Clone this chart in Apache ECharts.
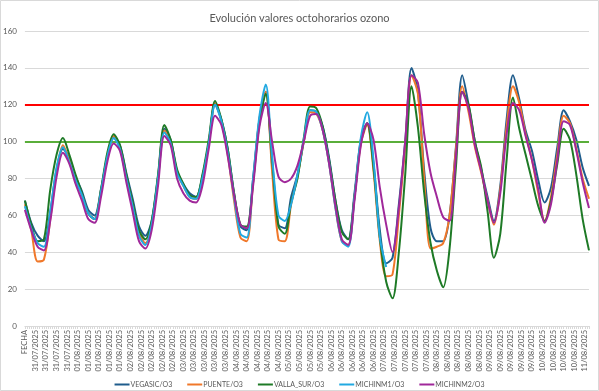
<!DOCTYPE html>
<html>
<head>
<meta charset="utf-8">
<script src="https://cdn.jsdelivr.net/npm/echarts@6/dist/echarts.min.js"></script>
<style>
html,body{margin:0;padding:0;background:#fff;}
#c{width:599px;height:391px;}
</style>
</head>
<body>
<div id="c"></div>
<script>
// ---- data ----
const titleText = 'Evolución valores octohorarios ozono';
const firstLabel = 'FECHA';
const days = ['31/07/2025','01/08/2025','02/08/2025','03/08/2025','04/08/2025','05/08/2025',
              '06/08/2025','07/08/2025','08/08/2025','09/08/2025','10/08/2025','11/08/2025'];
const hoursOnLastDay = 3; // 11/08 00:00 .. 02:00
const yTicks = [0, 20, 40, 60, 80, 100, 120, 140, 160];
const limitRed = 120;
const limitGreen = 100;
const seriesNames = ['VEGASIC/O3','PUENTE/O3','VALLA_SUR/O3','MICHINM1/O3','MICHINM2/O3'];

// readings taken every 3rd hourly category (category index 0,3,6,...,267)
const vegasic = [68,56,49,46,62,85,96,91,81,73,
 63,60,74,92,102,98,83,69,54,49,
 57,81,107,101,84,77,72,70,81,99,
 120,112,96,72,54,52,80,112,127,87,
 55,53,70,82,100,117,116,108,91,68,
 52,47,72,101,110,88,52,34,37,66,
 100,140,127,84,53,46,46,60,97,136,
 120,100,85,70,57,76,112,136,123,106,
 95,79,67,75,97,117,111,101,86,76];
const puente = [66,52,35,36,58,84,98,90,79,71,
 61,58,73,92,103,97,81,66,51,45,
 55,80,106,100,83,76,70,69,80,99,
 121,111,93,68,48,46,78,112,127,84,
 47,46,66,81,100,116,115,106,88,64,
 46,44,70,99,109,84,46,27,28,60,
 97,136,126,80,42,43,45,60,96,130,
 116,97,83,68,55,74,108,130,121,104,
 90,72,57,70,93,114,110,96,80,69];
const vallaSur = [68,55,46,47,74,93,102,93,82,72,
 61,58,74,94,104,98,82,67,52,47,
 57,82,109,101,85,77,71,70,82,101,
 122,112,96,72,55,54,78,110,126,90,
 54,50,67,80,102,119,118,108,90,68,
 51,47,70,100,110,86,48,24,15,40,
 82,130,108,72,45,30,21,42,86,127,
 120,100,86,62,37,50,90,124,107,93,
 79,65,57,68,88,107,101,82,58,41];
const michinm1 = [65,53,45,43,62,86,97,89,79,71,
 61,58,73,92,102,96,80,65,49,44,
 55,80,105,99,83,76,70,69,80,99,
 120,111,94,70,50,48,80,114,131,92,
 60,57,66,82,101,117,116,106,88,64,
 46,43,70,102,116,90,48,32];
const michinm2 = [63,52,43,41,57,81,94,88,77,68,
 58,56,70,89,99,95,78,62,46,42,
 52,76,103,98,80,72,68,67,76,96,
 114,109,92,71,55,53,76,108,121,100,
 81,78,80,87,100,114,115,106,88,65,
 47,44,68,98,110,101,75,55,40,64,
 100,136,132,104,83,70,59,57,92,127,
 118,98,84,68,56,72,104,121,117,103,
 90,74,56,66,90,111,109,95,78,64];
const sampleStep = 3;

// ---- build categories (hourly) ----
const categories = [firstLabel];
days.forEach((d, di) => {
  const n = di === days.length - 1 ? hoursOnLastDay : 24;
  for (let h = 0; h < n; h++) categories.push(d + ' ' + String(h).padStart(2, '0') + ':00');
});

function place(samples) {
  const arr = new Array(categories.length).fill(null);
  samples.forEach((v, k) => { if (v !== null) arr[k * sampleStep] = v; });
  return arr;
}

const colors = ['#1F5C8C', '#F0782A', '#1E7A26', '#22A9E1', '#A0289A'];
const allData = [vegasic, puente, vallaSur, michinm1, michinm2];
const textColor = '#595959';
const font = 'Lato';

const series = allData.map((d, i) => ({
  name: seriesNames[i],
  type: 'line',
  data: place(d),
  connectNulls: true,
  smooth: 0.3,
  showSymbol: false,
  symbol: 'none',
  lineStyle: { width: 2, color: colors[i] },
  itemStyle: { color: colors[i] },
  z: 3 + i
}));
series[0].markLine = {
  silent: true,
  symbol: 'none',
  label: { show: false },
  data: [
    { yAxis: limitRed, lineStyle: { color: '#FF0000', width: 2, type: 'solid' } },
    { yAxis: limitGreen, lineStyle: { color: '#5AAE3A', width: 2, type: 'solid' } }
  ]
};

const chart = echarts.init(document.getElementById('c'), null, { renderer: 'canvas' });
chart.setOption({
  animation: false,
  backgroundColor: '#fff',
  textStyle: { fontFamily: font },
  color: colors,
  title: {
    text: titleText,
    left: 'center',
    top: 8,
    textStyle: { fontSize: 11, fontWeight: 'normal', color: textColor, fontFamily: font }
  },
  legend: {
    data: seriesNames,
    top: 376,
    left: 'center',
    icon: 'rect',
    itemWidth: 15,
    itemHeight: 2,
    itemGap: 15,
    textStyle: { fontSize: 7, color: textColor, fontFamily: font, padding: [0, 0, 0, -4] }
  },
  grid: { left: 24, right: 10, top: 31, bottom: 65, containLabel: false },
  xAxis: {
    type: 'category',
    data: categories,
    boundaryGap: false,
    axisLine: { show: true, lineStyle: { color: '#D9D9D9', width: 1 } },
    axisTick: { show: true, interval: 0, length: 3, lineStyle: { color: '#D9D9D9' } },
    axisLabel: {
      interval: 4,
      rotate: 90,
      fontSize: 7.5,
      color: textColor,
      margin: 4,
      fontFamily: font,
      formatter: v => v.split(' ')[0]
    },
    splitLine: { show: false }
  },
  yAxis: {
    type: 'value',
    min: yTicks[0],
    max: yTicks[yTicks.length - 1],
    interval: yTicks[1] - yTicks[0],
    axisLine: { show: false },
    axisTick: { show: false },
    axisLabel: { fontSize: 8, color: textColor, margin: 8, fontFamily: font },
    splitLine: { lineStyle: { color: '#D9D9D9', width: 1 } }
  },
  graphic: [{
    type: 'rect',
    silent: true,
    shape: { x: 0.5, y: 0.5, width: 598, height: 390 },
    style: { fill: null, stroke: '#D9D9D9', lineWidth: 1 }
  }],
  series: series
});
</script>
</body>
</html>
